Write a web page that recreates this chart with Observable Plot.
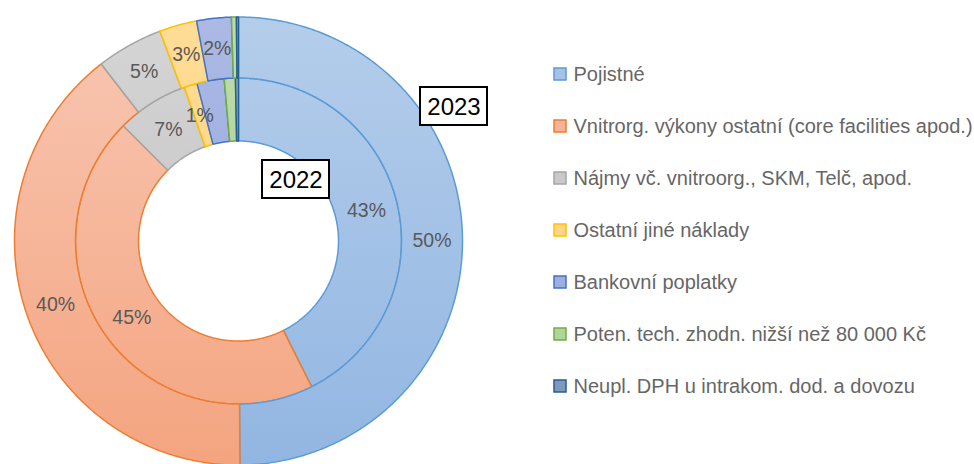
<!DOCTYPE html>
<html>
<head>
<meta charset="utf-8">
<script src="https://cdn.jsdelivr.net/npm/d3@7"></script>
<script src="https://cdn.jsdelivr.net/npm/@observablehq/plot@0.6"></script>
<style>
  html, body { margin: 0; padding: 0; background: #fff; }
  #chart { width: 974px; height: 464px; overflow: hidden; }
</style>
</head>
<body>
<div id="chart"></div>
<script>
// ---- data ----
const categories = [
  "Pojistné",
  "Vnitrorg. výkony ostatní (core facilities apod.)",
  "Nájmy vč. vnitroorg., SKM, Telč, apod.",
  "Ostatní jiné náklady",
  "Bankovní poplatky",
  "Poten. tech. zhodn. nižší než 80 000 Kč",
  "Neupl. DPH u intrakom. dod. a dovozu"
];
const values2022 = [42.6, 44.9, 7.1, 1.3, 2.7, 1.1, 0.3];
const values2023 = [49.9, 39.6, 4.8, 2.7, 2.5, 0.35, 0.15];
const labels2022 = ["43%", "45%", "7%", "1%", "", "", ""];
const labels2023 = ["50%", "40%", "5%", "3%", "2%", "", ""];
const years = ["2022", "2023"];

// ---- styling ----
const strokeColors = ["#5b9bd5", "#ed7d31", "#a5a5a5", "#ffc000", "#4472c4", "#70ad47", "#255e91"];
const topColors    = ["#b4cdeb", "#f8c7b3", "#d5d5d5", "#ffdd98", "#abb9e4", "#bedcab", "#91a7c6"];
const bottomColors = ["#92b6e2", "#f4a47f", "#bcbcbc", "#fccb68", "#8fa3d9", "#a2cb89", "#6c8ab4"];
const legendFill   = ["#a6c2e7", "#f6b397", "#c9c9c9", "#fed486", "#9dafdf", "#b1d49b", "#7f99bd"];

const W = 974, H = 464;
const cx = 238, cy = 240.5;
const rings = [
  {year: "2022", values: values2022, labels: labels2022, r0: 100, r1: 163},
  {year: "2023", values: values2023, labels: labels2023, r0: 163, r1: 224}
];

// build slice polygons from the data (angles clockwise from 12 o'clock)
const slicePts = [];
const labelPts = [];
rings.forEach((ring, ri) => {
  const total = d3.sum(ring.values);
  let acc = 0;
  ring.values.forEach((v, i) => {
    const a0 = acc / total * 2 * Math.PI;
    acc += v;
    const a1 = acc / total * 2 * Math.PI;
    const n = Math.max(2, Math.ceil((a1 - a0) / (Math.PI / 360)));
    const id = ri + "-" + i;
    const pts = [];
    for (let k = 0; k <= n; k++) {
      const a = a0 + (a1 - a0) * k / n;
      pts.push({id, cat: i, px: ring.r1 * Math.sin(a), py: -ring.r1 * Math.cos(a)});
    }
    for (let k = n; k >= 0; k--) {
      const a = a0 + (a1 - a0) * k / n;
      pts.push({id, cat: i, px: ring.r0 * Math.sin(a), py: -ring.r0 * Math.cos(a)});
    }
    slicePts.push(...pts);
    const am = (a0 + a1) / 2, rm = (ring.r0 + ring.r1) / 2;
    if (ring.labels[i]) labelPts.push({text: ring.labels[i], px: rm * Math.sin(am), py: -rm * Math.cos(am)});
  });
});

const legendRows = categories.map((c, i) => ({cat: i, name: c, row: i}));
const rowY = (row) => 74 + row * 52;

const plot = Plot.plot({
  width: W, height: H,
  margin: 0,
  x: {domain: [-cx, W - cx], range: [0, W], axis: null},
  y: {domain: [-cy, H - cy], range: [0, H], axis: null},
  color: {type: "identity"},
  style: {fontFamily: "'Liberation Sans', Arial, sans-serif", background: "white", overflow: "hidden"},
  marks: [
    Plot.line(slicePts, {
      x: "px", y: "py", z: "id",
      curve: "linear-closed",
      fill: d => "url(#grad" + d.cat + ")",
      stroke: d => strokeColors[d.cat],
      strokeWidth: 1.5,
      strokeLinejoin: "miter"
    }),
    Plot.text(labelPts, {
      x: "px", y: "py", text: "text",
      fontSize: 19.5, fill: "#595959", textAnchor: "middle", lineAnchor: "middle"
    }),
    // year annotations
    Plot.rect([years[0]], {x1: 262 - cx, x2: 329 - cx, y1: 160 - cy, y2: 198 - cy, fill: "white", stroke: "black", strokeWidth: 2}),
    Plot.text([years[0]], {x: 295.5 - cx, y: 179.5 - cy, text: d => d, fontSize: 24, fill: "black", textAnchor: "middle", lineAnchor: "middle"}),
    Plot.rect([years[1]], {x1: 420 - cx, x2: 487 - cx, y1: 87 - cy, y2: 125 - cy, fill: "white", stroke: "black", strokeWidth: 2}),
    Plot.text([years[1]], {x: 453.5 - cx, y: 106.5 - cy, text: d => d, fontSize: 24, fill: "black", textAnchor: "middle", lineAnchor: "middle"}),
    // legend
    Plot.rect(legendRows, {
      x1: 554 - cx, x2: 566 - cx,
      y1: d => rowY(d.row) - 6 - cy, y2: d => rowY(d.row) + 6 - cy,
      fill: d => legendFill[d.cat], stroke: d => strokeColors[d.cat], strokeWidth: 1.5
    }),
    Plot.text(legendRows, {
      x: 573 - cx, y: d => rowY(d.row) - cy, text: "name",
      fontSize: 20, fill: "#666666", textAnchor: "start", lineAnchor: "middle"
    })
  ]
});

// vertical gradient fills (light at top, darker at bottom) like the original
const svg = d3.select(plot);
const defs = svg.insert("defs", ":first-child");
topColors.forEach((c, i) => {
  const g = defs.append("linearGradient")
    .attr("id", "grad" + i)
    .attr("gradientUnits", "userSpaceOnUse")
    .attr("x1", 0).attr("x2", 0)
    .attr("y1", cy - 224).attr("y2", cy + 224);
  g.append("stop").attr("offset", 0).attr("stop-color", c);
  g.append("stop").attr("offset", 1).attr("stop-color", bottomColors[i]);
});

document.getElementById("chart").appendChild(plot);
</script>
</body>
</html>
